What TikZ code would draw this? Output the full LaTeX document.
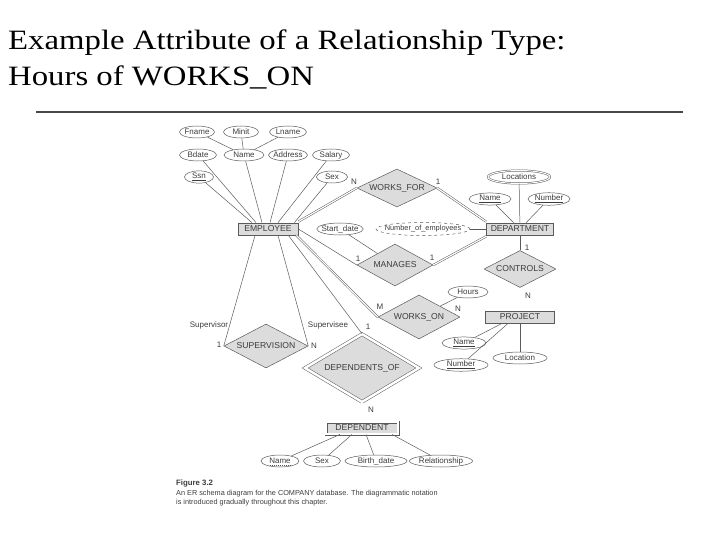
\documentclass[tikz,border=0pt]{standalone}
\usepackage{fontspec}
\usepackage{graphicx}
\setmainfont{Liberation Serif}
\setsansfont{Liberation Sans}
\usetikzlibrary{shapes.geometric, positioning}

\definecolor{erline}{HTML}{5A5A5A}
\definecolor{erfill}{HTML}{DCDCDC}
\definecolor{ertext}{HTML}{3C3C3C}
\definecolor{rulegray}{HTML}{474747}

\newcommand{\titletext}[1]{\scalebox{1.17}[1]{\fontsize{28}{30}\selectfont #1}}

\begin{document}
\begin{tikzpicture}[x=1pt, y=-1pt,
	er/.style = {font=\sffamily\fontsize{8}{9}\selectfont, text=ertext},
	big/.style = {font=\sffamily\fontsize{8.6}{9}\selectfont},
	entity/.style = {er, big, shape=rectangle, draw=erline, fill=erfill, line width=0.8pt, minimum height=12pt, inner sep=1pt},
	weakentity/.style = {entity, double, double distance=1.4pt},
	rel/.style = {er, big, shape=diamond, aspect=2.2, draw=erline, fill=erfill, line width=0.5pt, inner sep=0pt},
	weakrel/.style = {rel, double, double distance=2.5pt},
	attr/.style = {er, shape=ellipse, draw=erline, fill=white, line width=0.5pt, minimum height=12pt, inner xsep=-2pt, inner ysep=0.5pt},
	multi/.style = {attr, double, double distance=1pt},
	derived/.style = {attr, dashed},
	card/.style = {er, inner sep=0.5pt},
	link/.style = {draw=erline, line width=0.5pt},
	total/.style = {link, double, double distance=1.2pt}]
	\useasboundingbox (0,0) rectangle (720,540);

	\node[anchor=base west, inner sep=0] (t1) at (8,50) {\titletext{Example Attribute of a Relationship Type:}};
	\node[anchor=base west, inner sep=0] (t2) at (8,86) {\titletext{Hours of WORKS\_ON}};
	\draw[line width=2pt, rulegray] (36,112) -- (683,112);

	\node[entity, minimum width=60pt] (emp) at (268,229) {EMPLOYEE};
	\node[entity, minimum width=67pt] (dept) at (520,229) {DEPARTMENT};
	\node[entity, minimum width=69pt] (proj) at (520,317) {PROJECT};
	\node[weakentity, minimum width=72pt] (dep) at (362,428) {DEPENDENT};

	\node[attr, minimum width=35pt] (fname) at (197,132) {Fname};
	\node[attr, minimum width=35pt] (minit) at (241,132) {Minit};
	\node[attr, minimum width=37pt] (lname) at (288,132) {Lname};
	\node[attr, minimum width=37pt] (bdate) at (198,155) {Bdate};
	\node[attr, minimum width=40pt] (ename) at (244,155) {Name};
	\node[attr, minimum width=39pt] (addr) at (288,155) {Address};
	\node[attr, minimum width=37pt] (salary) at (331,155) {Salary};
	\node[attr, minimum width=29pt] (ssn) at (199,177) {\underline{Ssn}};
	\node[attr, minimum width=31pt] (esex) at (332,177) {Sex};

	\node[multi, minimum width=62pt, minimum height=13pt] (locs) at (519,177) {Locations};
	\node[attr, minimum width=42pt] (dname) at (490,199) {\underline{Name}};
	\node[attr, minimum width=42pt] (dnum) at (549,199) {\underline{Number}};
	\node[attr, minimum width=46pt] (sdate) at (340,229) {Start\_date};
	\node[derived, minimum width=94pt, minimum height=13pt, inner xsep=-8pt, font=\sffamily\fontsize{7.4}{8}\selectfont] (noe) at (423,229) {Number\_of\_employees};

	\node[rel, minimum width=80pt, minimum height=38pt] (wf) at (397,188) {WORKS\_FOR};
	\node[rel, minimum width=76pt, minimum height=42pt] (man) at (395,265) {MANAGES};
	\node[rel, minimum width=72pt, minimum height=37pt] (ctl) at (520,269) {CONTROLS};
	\node[rel, minimum width=82pt, minimum height=44pt] (wo) at (419,317) {WORKS\_ON};
	\node[rel, minimum width=84pt, minimum height=44pt] (sup) at (266,346) {SUPERVISION};
	\node[weakrel, minimum width=114pt, minimum height=68pt] (dof) at (362,368) {DEPENDENTS\_OF};

	\node[attr, minimum width=40pt] (hours) at (468,292) {Hours};
	\node[attr, minimum width=44pt] (pname) at (464,343) {\underline{Name}};
	\node[attr, minimum width=54pt] (pnum) at (461,365) {\underline{Number}};
	\node[attr, minimum width=54pt] (ploc) at (520,358) {Location};

	\node[attr, minimum width=38pt] (dpname) at (280,461) {Name};
	\node[attr, minimum width=37pt] (dpsex) at (322,461) {Sex};
	\node[attr, minimum width=62pt] (dpbdate) at (376,461) {Birth\_date};
	\node[attr, minimum width=63pt] (dprel) at (441,461) {Relationship};
	\draw[erline, line width=0.4pt, dash pattern=on 1.2pt off 0.8pt] ([xshift=-10.5pt, yshift=-1.5pt]dpname.base) -- ([xshift=10.5pt, yshift=-1.5pt]dpname.base);

	\draw[link] (fname) -- (ename);
	\draw[link] (minit) -- (ename);
	\draw[link] (lname) -- (ename);
	\draw[link] (bdate) -- ([xshift=-12pt]emp.north);
	\draw[link] (ename) -- ([xshift=-6pt]emp.north);
	\draw[link] (addr) -- ([xshift=2pt]emp.north);
	\draw[link] (salary) -- ([xshift=10pt]emp.north);
	\draw[link] (ssn) -- ([xshift=-16pt]emp.north);
	\draw[link] (esex) -- ([xshift=-4pt]emp.north east);

	\draw[total] ([yshift=1pt]emp.north east) -- (wf.west);
	\draw[total] (wf.east) -- ([yshift=1pt]dept.north west);
	\draw[link] (emp.east) -- (man.west);
	\draw[link] (sdate) -- (man);
	\draw[total] (man.east) -- ([yshift=-1pt]dept.south west);
	\draw[link] (noe) -- (dept.west);
	\draw[link] (locs) -- (dept);
	\draw[link] (dname) -- (dept);
	\draw[link] (dnum) -- (dept);
	\draw[link] (dept.south) -- (ctl.north);
	\draw[total] (ctl.south) -- (proj.north);
	\draw[total] ([xshift=-2pt]emp.south east) -- (wo.west);
	\draw[total] (wo.east) -- (proj.west);
	\draw[link] (hours) -- (wo);
	\draw[link] (pname) -- ([xshift=-18pt]proj.south);
	\draw[link] (pnum) -- ([xshift=-12pt]proj.south);
	\draw[link] (ploc) -- (proj);
	\draw[link] ([xshift=-13pt]emp.south) -- (sup.west);
	\draw[link] ([xshift=10pt]emp.south) -- (sup.east);
	\draw[link] ([xshift=-10pt]emp.south east) -- (dof.north);
	\draw[total] (dof.south) -- (dep.north);
	\draw[link] (dpname) -- ([xshift=-22pt]dep.south);
	\draw[link] (dpsex) -- ([xshift=-10pt]dep.south);
	\draw[link] (dpbdate) -- ([xshift=4pt]dep.south);
	\draw[link] (dprel) -- ([xshift=30pt]dep.south);

	\node[card] (wfN) at (354,182) {N};
	\node[card] (wf1) at (438,182) {1};
	\node[card] (man1a) at (358,259) {1};
	\node[card] (man1b) at (432,258) {1};
	\node[card] (ctl1) at (527,248) {1};
	\node[card] (ctlN) at (528,296) {N};
	\node[card] (woM) at (380,307) {M};
	\node[card] (woN) at (458,309) {N};
	\node[card] (supvr) at (209,325) {Supervisor};
	\node[card] (supve) at (328,325) {Supervisee};
	\node[card] (sup1) at (219,345) {1};
	\node[card] (supN) at (314,346) {N};
	\node[card] (dof1) at (368,327) {1};
	\node[card] (dofN) at (371,410) {N};

	\node[anchor=base west, inner sep=0, text=ertext, font=\sffamily\bfseries\fontsize{7.8}{8}\selectfont] (fig) at (176,485) {Figure 3.2};
	\node[anchor=north west, inner sep=0, align=left, text=ertext, font=\sffamily\fontsize{7.3}{9.5}\selectfont] (cap) at ([yshift=-3pt]fig.south west) {An ER schema diagram for the COMPANY database. The diagrammatic notation\\is introduced gradually throughout this chapter.};
\end{tikzpicture}
\end{document}
